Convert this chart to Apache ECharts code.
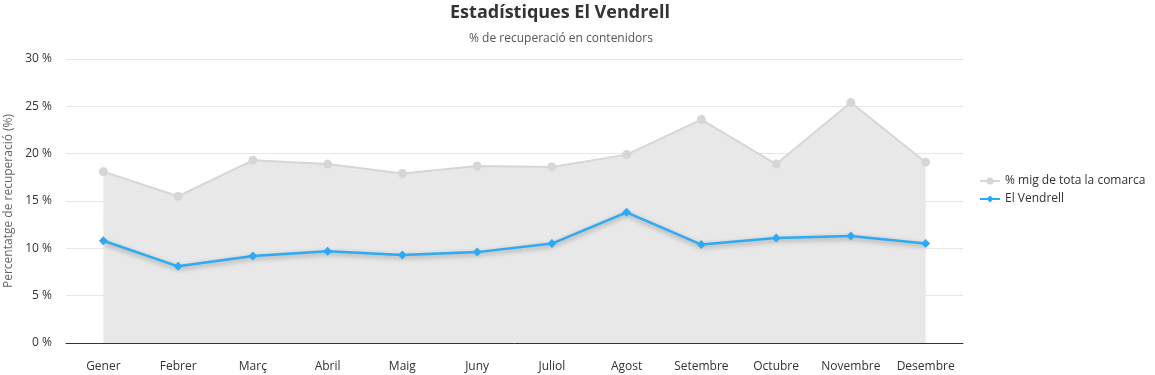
<!DOCTYPE html>
<html><head><meta charset="utf-8">
<script src="https://cdn.jsdelivr.net/npm/echarts@6/dist/echarts.min.js"></script>
<style>html,body{margin:0;padding:0;background:#fff}#c{width:1155px;height:375px}</style>
</head><body><div id="c"></div>
<script>
const months = ['Gener','Febrer','Març','Abril','Maig','Juny','Juliol','Agost','Setembre','Octubre','Novembre','Desembre'];
const comarca = [18.1,15.5,19.3,18.9,17.9,18.7,18.6,19.9,23.6,18.9,25.4,19.1];
const vendrell = [10.8,8.1,9.2,9.7,9.3,9.6,10.5,13.8,10.4,11.1,11.3,10.5];
const yTicks = [0,5,10,15,20,25,30];
const FONT = '"Open Sans", "Noto Sans", sans-serif';
const chart = echarts.init(document.getElementById('c'));
chart.setOption({
  animation:false,
  textStyle:{fontFamily:FONT},
  title:[{text:'Estadístiques El Vendrell',left:555,textAlign:'center',top:-1,textStyle:{fontFamily:FONT,fontSize:18,fontWeight:'bold',color:'#333'}},
         {text:'% de recuperació en contenidors',left:556,textAlign:'center',top:28,textStyle:{fontFamily:FONT,fontSize:12,fontWeight:'normal',color:'#555'}}],
  legend:{orient:'vertical',left:974,top:170,itemGap:6,itemWidth:20,itemHeight:9,
    textStyle:{fontFamily:FONT,fontSize:12,color:'#333'},
    data:['% mig de tota la comarca','El Vendrell']},
  grid:{left:66,right:192,top:59,bottom:32,outerBoundsMode:'none',containLabel:false},
  xAxis:{type:'category',data:months,boundaryGap:true,
    axisLine:{lineStyle:{color:'#333',width:1}},axisTick:{show:false},
    axisLabel:{color:'#333',fontSize:12,margin:18,fontFamily:FONT,interval:0}},
  yAxis:{type:'value',min:yTicks[0],max:yTicks[yTicks.length-1],interval:5,
    name:'Percentatge de recuperació (%)',nameLocation:'middle',nameGap:51,nameRotate:90,
    nameTextStyle:{color:'#666',fontSize:12,fontFamily:FONT},
    axisLabel:{formatter:v=>v+' %',color:'#333',fontSize:12,fontFamily:FONT,margin:14},
    splitLine:{lineStyle:{color:'#e6e6e6'}},axisLine:{show:false},axisTick:{show:false}},
  series:[
    {name:'% mig de tota la comarca',type:'line',data:comarca,symbol:'circle',symbolSize:9,
     lineStyle:{color:'#d6d6d6',width:2},itemStyle:{color:'#d6d6d6'},
     areaStyle:{color:'#e8e8e8',opacity:1},z:1},
    {name:'El Vendrell',type:'line',data:vendrell,symbol:'diamond',symbolSize:9,
     lineStyle:{color:'#2eaaf5',width:2.5,shadowColor:'rgba(0,0,0,0.35)',shadowBlur:5,shadowOffsetY:2},
     itemStyle:{color:'#2eaaf5'},z:3}
  ]
});
</script></body></html>
